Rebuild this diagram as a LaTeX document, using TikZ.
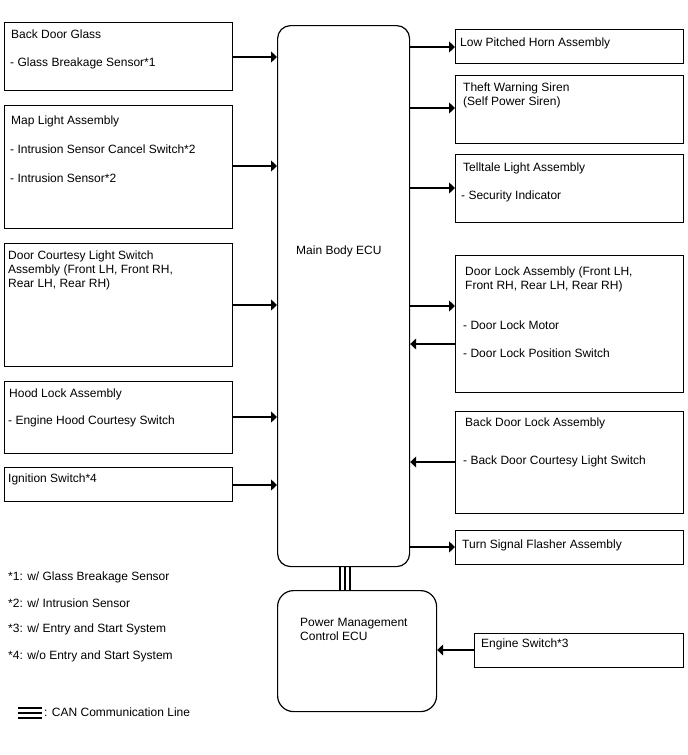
\documentclass[tikz,border=0pt]{standalone}
\usepackage{fontspec}
\setmainfont{Liberation Sans}
\usetikzlibrary{arrows.meta}
\begin{document}
\begin{tikzpicture}[x=1pt,y=-1pt,
  box/.style={draw, line width=1.2pt, inner sep=0pt, anchor=north west},
  ecu/.style={draw, line width=1.2pt, inner sep=0pt, anchor=north west, rounded corners=13pt},
  txt/.style={anchor=base west, inner sep=0pt, font=\fontsize{12}{14}\selectfont, align=left},
  arr/.style={line width=1.2pt, -{Triangle[length=6pt,width=11pt]}},
  can/.style={line width=1.3pt}]
\useasboundingbox (0,0) rectangle (688,755);
% Main ECUs
\node[ecu, minimum width=132pt, minimum height=541pt] (ecu) at (277,25) {};
\node[ecu, rounded corners=16pt, minimum width=159pt, minimum height=121pt] (pm) at (277,590) {};
\node[txt] (ecut) at (296,254) {Main Body ECU};
\node[txt] (pmt) at (300,640) {Power Management\\Control ECU};
% Left boxes
\node[box, minimum width=228pt, minimum height=68pt] (bdg) at (4,22) {};
\node[txt] at (11,38) {Back Door Glass};
\node[txt] at (10,66) {- Glass Breakage Sensor*1};
\node[box, minimum width=228pt, minimum height=123pt] (map) at (4,105) {};
\node[txt] at (11,124) {Map Light Assembly};
\node[txt] at (10,153) {- Intrusion Sensor Cancel Switch*2};
\node[txt] at (10,182) {- Intrusion Sensor*2};
\node[box, minimum width=228pt, minimum height=123pt] (dcl) at (4,243) {};
\node[txt] at (8,287) {Door Courtesy Light Switch\\Assembly (Front LH, Front RH,\\Rear LH, Rear RH)};
\node[box, minimum width=228pt, minimum height=72pt] (hood) at (4,381) {};
\node[txt] at (9,397) {Hood Lock Assembly};
\node[txt] at (8,424) {- Engine Hood Courtesy Switch};
\node[box, minimum width=228pt, minimum height=34pt] (ign) at (4,467) {};
\node[txt] at (8,482) {Ignition Switch*4};
% Right boxes
\node[box, minimum width=228pt, minimum height=34pt] (horn) at (455,29) {};
\node[txt] at (460,46) {Low Pitched Horn Assembly};
\node[box, minimum width=228pt, minimum height=68pt] (siren) at (455,75) {};
\node[txt] at (463,105) {Theft Warning Siren\\(Self Power Siren)};
\node[box, minimum width=228pt, minimum height=68pt] (tell) at (455,154) {};
\node[txt] at (463,171) {Telltale Light Assembly};
\node[txt] at (461,199) {- Security Indicator};
\node[box, minimum width=228pt, minimum height=137pt] (dla) at (455,255) {};
\node[txt] at (465,289) {Door Lock Assembly (Front LH,\\Front RH, Rear LH, Rear RH)};
\node[txt] at (463,329) {- Door Lock Motor};
\node[txt] at (463,357) {- Door Lock Position Switch};
\node[box, minimum width=228pt, minimum height=102pt] (bdl) at (455,411) {};
\node[txt] at (465,426) {Back Door Lock Assembly};
\node[txt] at (463,464) {- Back Door Courtesy Light Switch};
\node[box, minimum width=228pt, minimum height=34pt] (turn) at (455,530) {};
\node[txt] at (462,548) {Turn Signal Flasher Assembly};
\node[box, minimum width=209pt, minimum height=34pt] (eng) at (474,633) {};
\node[txt] at (481,647) {Engine Switch*3};
% Connectors left -> ECU
\draw[arr] (bdg.east |- 0,57) -- (ecu.west |- 0,57);
\draw[arr] (map.east |- 0,166) -- (ecu.west |- 0,166);
\draw[arr] (dcl.east |- 0,305) -- (ecu.west |- 0,305);
\draw[arr] (hood.east |- 0,417) -- (ecu.west |- 0,417);
\draw[arr] (ign.east |- 0,485) -- (ecu.west |- 0,485);
% ECU -> right
\draw[arr] (ecu.east |- 0,47) -- (horn.west |- 0,47);
\draw[arr] (ecu.east |- 0,108) -- (siren.west |- 0,108);
\draw[arr] (ecu.east |- 0,188) -- (tell.west |- 0,188);
\draw[arr] (ecu.east |- 0,306) -- (dla.west |- 0,306);
\draw[arr] (dla.west |- 0,344) -- (ecu.east |- 0,344);
\draw[arr] (bdl.west |- 0,462) -- (ecu.east |- 0,462);
\draw[arr] (ecu.east |- 0,547) -- (turn.west |- 0,547);
\draw[arr] (eng.west |- 0,650) -- (pm.east |- 0,650);
% CAN line
\foreach \xx in {340,345,350} {
  \draw[can] (ecu.south -| \xx,0) -- (pm.north -| \xx,0);
}
% Footnotes
\node[txt] (f1) at (8,580) {*1: w/ Glass Breakage Sensor};
\node[txt] (f2) at (8,607) {*2: w/ Intrusion Sensor};
\node[txt] (f3) at (8,632) {*3: w/ Entry and Start System};
\node[txt] (f4) at (8,659) {*4: w/o Entry and Start System};
\foreach \yy in {708,713,718} {
  \draw[line width=1.7pt] (18,\yy) -- (42,\yy);
}
\node[txt] (canl) at (44,716) {: CAN Communication Line};
\end{tikzpicture}
\end{document}
